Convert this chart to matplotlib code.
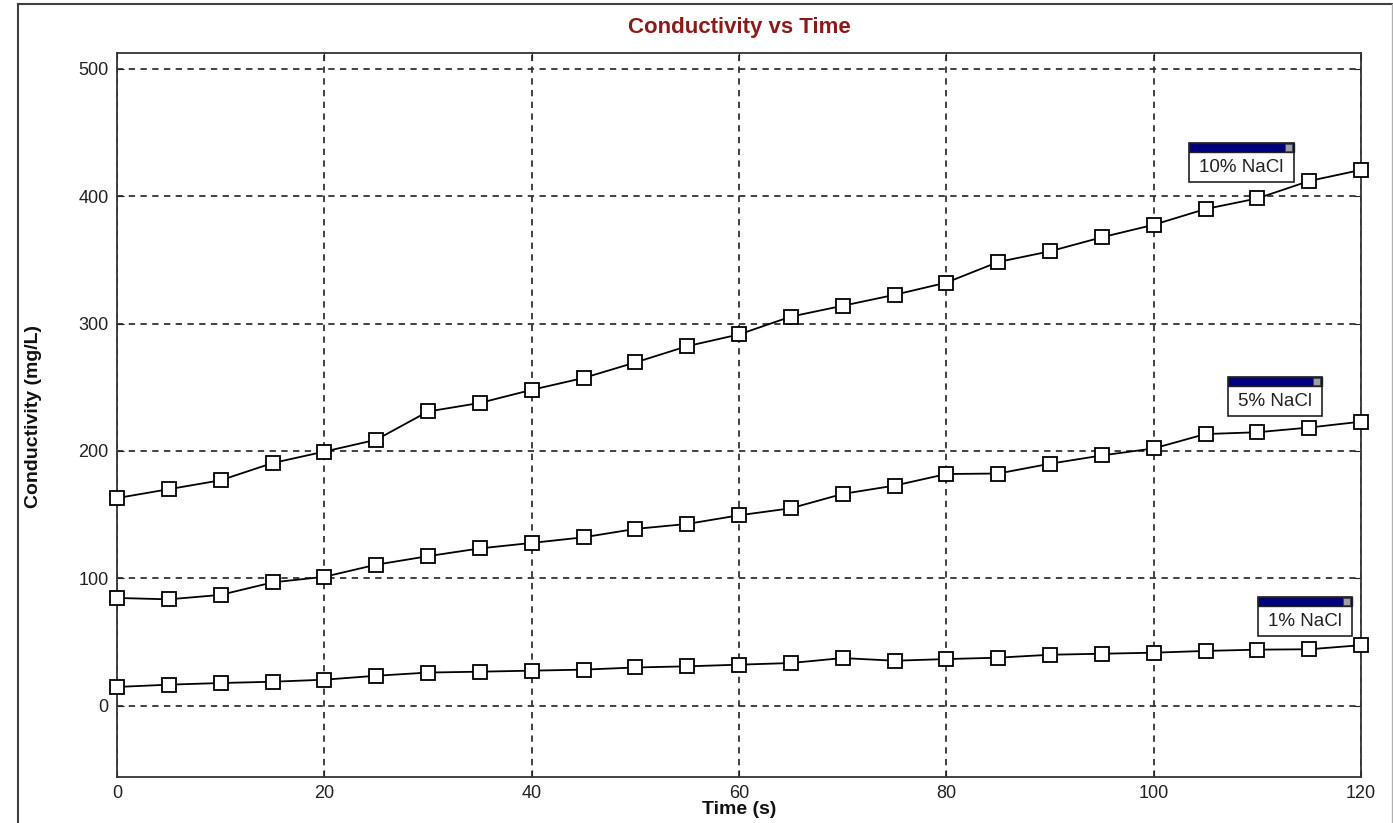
"""
Conductivity vs Time - three NaCl solutions
"""
import matplotlib
matplotlib.use('Agg')
import matplotlib.pyplot as plt
import matplotlib.patches as mpatches
from matplotlib.lines import Line2D

# Data
time_s = [0, 5, 10, 15, 20, 25, 30, 35, 40, 45, 50, 55, 60,
          65, 70, 75, 80, 85, 90, 95, 100, 105, 110, 115, 120]

nacl_10 = [163, 170, 177, 190.5, 199.5, 208.8, 231, 237.7, 248, 257.3, 269.5, 282.3, 291.5,
           305.5, 314, 322.6, 332.2, 348.4, 356.8, 367.8, 377.6, 390, 398.3, 412, 420.7]
nacl_5 = [84.6, 83.5, 87, 96.8, 101.2, 110.7, 117.4, 123.5, 127.8, 132.2, 138.8, 142.7, 149.5,
          155, 166.3, 172.8, 181.9, 182.3, 190, 196.5, 202, 213.3, 214.7, 218.4, 223]
nacl_1 = [14.7, 16.5, 17.8, 18.8, 20.4, 23.5, 26, 26.7, 27.5, 28.3, 30, 30.9, 32.2,
          33.5, 37.4, 35.3, 36.6, 37.7, 40, 40.8, 41.6, 43, 44, 44.3, 47.5]

series_labels = ['10% NaCl', '5% NaCl', '1% NaCl']
x_ticks = [0, 20, 40, 60, 80, 100, 120]
y_ticks = [0, 100, 200, 300, 400, 500]

W, H = 1393, 823
FONT = 'Liberation Sans'


def fx(px):
    return px / W


def fy(py):
    return 1 - py / H


fig = plt.figure(figsize=(W / 100, H / 100), dpi=100)
fig.patch.set_facecolor('white')

# outer window frame
fig.add_artist(Line2D([fx(18), fx(18)], [fy(4), 0], transform=fig.transFigure,
                      color='#404040', linewidth=1.5))
fig.add_artist(Line2D([fx(18), fx(1392)], [fy(4), fy(4)], transform=fig.transFigure,
                      color='#404040', linewidth=1.5))
fig.add_artist(Line2D([fx(1392), fx(1392)], [fy(4), 0], transform=fig.transFigure,
                      color='#b0b0b0', linewidth=1.0))

ax = fig.add_axes([fx(117), fy(777), fx(1361) - fx(117), fy(53) - fy(777)])

for vals in [nacl_10, nacl_5, nacl_1]:
    ax.plot(time_s, vals, color='black', linewidth=1.3, marker='s', markersize=10.5,
            markerfacecolor='white', markeredgecolor='black', markeredgewidth=1.3,
            clip_on=False, zorder=3)

ax.set_xlim(0, 120)
ax.set_ylim(-56, 512.5)
ax.set_xticks(x_ticks)
ax.set_yticks(y_ticks)
ax.grid(True, color='#333333', linestyle=(0, (3.5, 3)), linewidth=1.3)
ax.set_axisbelow(True)
ax.tick_params(direction='in', length=5, top=True, right=True, labelsize=13,
               colors='#222222', pad=6)
for lab in ax.get_xticklabels() + ax.get_yticklabels():
    lab.set_fontfamily(FONT)
for sp in ax.spines.values():
    sp.set_color('#333333')
    sp.set_linewidth(1.3)

# title and axis labels
fig.text(fx(739), fy(27), 'Conductivity vs Time', ha='center', va='center',
         fontsize=16, fontweight='bold', color='#8b1a1a', family=FONT)
fig.text(fx(739), fy(809), 'Time (s)', ha='center', va='center',
         fontsize=14, fontweight='bold', color='#111111', family=FONT)
fig.text(fx(34), fy(416), 'Conductivity (mg/L)', ha='center', va='center', rotation=90,
         fontsize=14, fontweight='bold', color='#111111', family=FONT)

# little window-style labels for each curve
boxes = [(1189, 143, 1294, 182), (1228, 377, 1322, 416), (1258, 597, 1352, 636)]
for label, (x0, y0, x1, y1) in zip(series_labels, boxes):
    fig.add_artist(mpatches.Rectangle((fx(x0), fy(y1)), fx(x1) - fx(x0), fy(y0) - fy(y1),
                                      transform=fig.transFigure, facecolor='white',
                                      edgecolor='#222222', linewidth=1.2, zorder=5))
    fig.add_artist(mpatches.Rectangle((fx(x0), fy(y0 + 9)), fx(x1) - fx(x0), fy(y0) - fy(y0 + 9),
                                      transform=fig.transFigure, facecolor='#000080',
                                      edgecolor='#222222', linewidth=1.0, zorder=6))
    fig.add_artist(mpatches.Rectangle((fx(x1 - 9), fy(y0 + 8)), fx(7), fy(y0 + 1) - fy(y0 + 8),
                                      transform=fig.transFigure, facecolor='#a0a0a0',
                                      edgecolor='#404040', linewidth=0.5, zorder=7))
    fig.text(fx((x0 + x1) / 2), fy((y0 + 9 + y1) / 2 + 1), label, ha='center', va='center',
             fontsize=13.5, color='#222222', family=FONT, zorder=8)

fig.savefig('out.png', dpi=100)
